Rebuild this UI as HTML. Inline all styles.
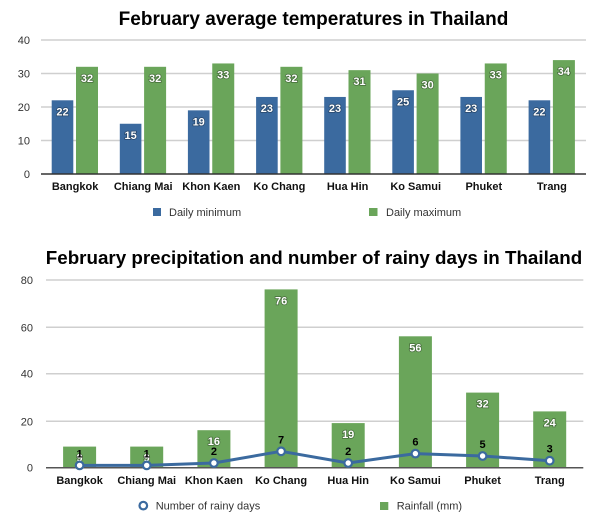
<!DOCTYPE html>
<html><head><meta charset="utf-8"><style>
html,body{margin:0;padding:0;background:#fff;}
svg{display:block;}
text{font-family:"Liberation Sans",Arial,sans-serif;}
.t{font-size:19px;font-weight:bold;fill:#000;}
.t2{font-size:18.8px;font-weight:bold;fill:#000;}
.ax{font-size:11px;fill:#333;}
.cat{font-size:11px;font-weight:bold;fill:#111;}
.lg{font-size:11px;fill:#333;}
.v{font-size:11px;font-weight:bold;fill:#fff;paint-order:stroke;stroke:rgba(0,0,0,0.35);stroke-width:1.5px;}
.d{font-size:11px;font-weight:bold;fill:#000;}
</style></head><body>
<svg width="600" height="519" viewBox="0 0 600 519" xmlns="http://www.w3.org/2000/svg">
<!-- Chart 1 -->
<text class="t" x="313.5" y="25" text-anchor="middle">February average temperatures in Thailand</text>
<g stroke="#cfcfcf" stroke-width="1.5">
<line x1="41" y1="40" x2="586" y2="40"/>
<line x1="41" y1="73.5" x2="586" y2="73.5"/>
<line x1="41" y1="107" x2="586" y2="107"/>
<line x1="41" y1="140.5" x2="586" y2="140.5"/>
</g>
<g class="ax" text-anchor="end">
<text x="30" y="44">40</text>
<text x="30" y="77.5">30</text>
<text x="30" y="111">20</text>
<text x="30" y="144.5">10</text>
<text x="30" y="178">0</text>
</g>
<g fill="#3b6a9f">
<rect x="51.7" y="100.3" width="21.6" height="73.7"/>
<rect x="119.8" y="123.75" width="21.6" height="50.25"/>
<rect x="187.9" y="110.35" width="21.6" height="63.65"/>
<rect x="256.1" y="96.95" width="21.6" height="77.05"/>
<rect x="324.2" y="96.95" width="21.6" height="77.05"/>
<rect x="392.3" y="90.25" width="21.6" height="83.75"/>
<rect x="460.4" y="96.95" width="21.6" height="77.05"/>
<rect x="528.6" y="100.3" width="21.6" height="73.7"/>
</g>
<g fill="#6aa55a">
<rect x="76" y="66.8" width="22" height="107.2"/>
<rect x="144.1" y="66.8" width="22" height="107.2"/>
<rect x="212.25" y="63.45" width="22" height="110.55"/>
<rect x="280.4" y="66.8" width="22" height="107.2"/>
<rect x="348.5" y="70.15" width="22" height="103.85"/>
<rect x="416.6" y="73.5" width="22" height="100.5"/>
<rect x="484.75" y="63.45" width="22" height="110.55"/>
<rect x="552.9" y="60.1" width="22" height="113.9"/>
</g>
<line x1="41" y1="174" x2="586" y2="174" stroke="#333" stroke-width="1.5"/>
<g class="v" text-anchor="middle">
<text x="62.5" y="115.3">22</text>
<text x="130.6" y="138.75">15</text>
<text x="198.7" y="125.35">19</text>
<text x="266.9" y="111.95">23</text>
<text x="335" y="111.95">23</text>
<text x="403.1" y="105.25">25</text>
<text x="471.2" y="111.95">23</text>
<text x="539.4" y="115.3">22</text>
<text x="87" y="81.8">32</text>
<text x="155.1" y="81.8">32</text>
<text x="223.25" y="78.45">33</text>
<text x="291.4" y="81.8">32</text>
<text x="359.5" y="85.15">31</text>
<text x="427.6" y="88.5">30</text>
<text x="495.75" y="78.45">33</text>
<text x="563.9" y="75.1">34</text>
</g>
<g class="cat" text-anchor="middle">
<text x="75.1" y="190">Bangkok</text>
<text x="143.2" y="190">Chiang Mai</text>
<text x="211.3" y="190">Khon Kaen</text>
<text x="279.4" y="190">Ko Chang</text>
<text x="347.6" y="190">Hua Hin</text>
<text x="415.7" y="190">Ko Samui</text>
<text x="483.8" y="190">Phuket</text>
<text x="551.9" y="190">Trang</text>
</g>
<rect x="153" y="208" width="8" height="8" fill="#3b6a9f"/>
<text class="lg" x="169" y="216">Daily minimum</text>
<rect x="369" y="208" width="8.5" height="8" fill="#6aa55a"/>
<text class="lg" x="386" y="216">Daily maximum</text>

<!-- Chart 2 -->
<text class="t2" x="314" y="264" text-anchor="middle">February precipitation and number of rainy days in Thailand</text>
<g stroke="#cfcfcf" stroke-width="1.5">
<line x1="46" y1="280" x2="583.3" y2="280"/>
<line x1="46" y1="327.3" x2="583.3" y2="327.3"/>
<line x1="46" y1="373.7" x2="583.3" y2="373.7"/>
<line x1="46" y1="421.3" x2="583.3" y2="421.3"/>
</g>
<g class="ax" text-anchor="end">
<text x="33" y="284">80</text>
<text x="33" y="331.3">60</text>
<text x="33" y="377.7">40</text>
<text x="33" y="425.3">20</text>
<text x="33" y="471.7">0</text>
</g>
<g fill="#6aa55a">
<rect x="63.1" y="446.6" width="33" height="21.1"/>
<rect x="130.2" y="446.6" width="33" height="21.1"/>
<rect x="197.4" y="430.2" width="33" height="37.5"/>
<rect x="264.6" y="289.4" width="33" height="178.3"/>
<rect x="331.7" y="423.1" width="33" height="44.6"/>
<rect x="398.9" y="336.3" width="33" height="131.4"/>
<rect x="466.1" y="392.6" width="33" height="75.1"/>
<rect x="533.2" y="411.4" width="33" height="56.3"/>
</g>
<line x1="46" y1="467.7" x2="583.3" y2="467.7" stroke="#555" stroke-width="1.5"/>
<g class="v" text-anchor="middle">
<text x="79.6" y="461.6">9</text>
<text x="146.7" y="461.6">9</text>
<text x="213.9" y="445.2">16</text>
<text x="281.1" y="304.4">76</text>
<text x="348.2" y="438.1">19</text>
<text x="415.4" y="351.3">56</text>
<text x="482.6" y="407.6">32</text>
<text x="549.7" y="426.4">24</text>
</g>
<polyline fill="none" stroke="#3b6a9f" stroke-width="3" stroke-linejoin="round"
 points="79.6,465.4 146.7,465.4 213.9,463 281.1,451.3 348.2,463 415.4,453.6 482.6,456 549.7,460.7"/>
<g fill="#fff" stroke="#3b6a9f" stroke-width="2.2">
<circle cx="79.6" cy="465.4" r="3.8"/>
<circle cx="146.7" cy="465.4" r="3.8"/>
<circle cx="213.9" cy="463" r="3.8"/>
<circle cx="281.1" cy="451.3" r="3.8"/>
<circle cx="348.2" cy="463" r="3.8"/>
<circle cx="415.4" cy="453.6" r="3.8"/>
<circle cx="482.6" cy="456" r="3.8"/>
<circle cx="549.7" cy="460.7" r="3.8"/>
</g>
<g class="d" text-anchor="middle">
<text x="79.6" y="457.4">1</text>
<text x="146.7" y="457.4">1</text>
<text x="213.9" y="455">2</text>
<text x="281.1" y="443.3">7</text>
<text x="348.2" y="455">2</text>
<text x="415.4" y="445.6">6</text>
<text x="482.6" y="448">5</text>
<text x="549.7" y="452.7">3</text>
</g>
<g class="cat" text-anchor="middle">
<text x="79.6" y="484">Bangkok</text>
<text x="146.7" y="484">Chiang Mai</text>
<text x="213.9" y="484">Khon Kaen</text>
<text x="281.1" y="484">Ko Chang</text>
<text x="348.2" y="484">Hua Hin</text>
<text x="415.4" y="484">Ko Samui</text>
<text x="482.6" y="484">Phuket</text>
<text x="549.7" y="484">Trang</text>
</g>
<circle cx="143.3" cy="505.6" r="3.8" fill="#fff" stroke="#3b6a9f" stroke-width="2.2"/>
<text class="lg" x="155.7" y="509.6">Number of rainy days</text>
<rect x="380" y="502" width="8.3" height="8" fill="#6aa55a"/>
<text class="lg" x="396.7" y="509.6">Rainfall (mm)</text>
</svg>
</body></html>
